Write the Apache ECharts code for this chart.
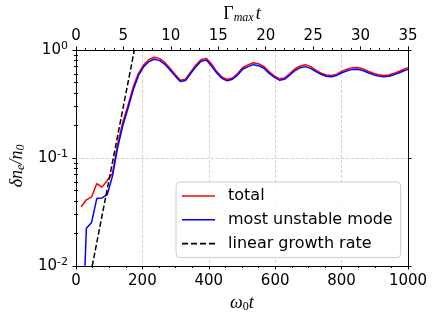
<!DOCTYPE html>
<html>
<head>
<meta charset="utf-8">
<script src="https://cdn.jsdelivr.net/npm/echarts@6/dist/echarts.min.js"></script>
<style>html,body{margin:0;padding:0;background:#fff}#c{width:436px;height:318px}</style>
</head>
<body>
<div id="c"></div>
<script>
// omega_0 t sample times
const t = [15.7,31.4,47.1,62.8,78.5,94.2,110,125.6,141.3,157,172.8,188.5,204.2,219.9,235.6,251.3,267,282.7,298.5,314.2,329.9,345.6,361.3,377,392.7,408.4,424.1,439.8,455.5,471.2,486.9,502.7,518.4,534,549.8,565.5,581.2,596.9,612.6,628.3,644,659.7,675.4,691.2,706.9,722.6,738.3,754,769.7,785.4,801.1,816.8,832.5,848.2,863.9,879.6,895.4,911,926.8,942.5,958.2,973.9,989.6,1000];
const total = [0.0353,0.041,0.0436,0.058,0.0537,0.0618,0.072,0.135,0.215,0.31,0.46,0.61,0.73,0.815,0.855,0.835,0.77,0.68,0.595,0.525,0.535,0.625,0.725,0.815,0.835,0.74,0.63,0.562,0.532,0.55,0.605,0.69,0.727,0.76,0.745,0.705,0.63,0.575,0.54,0.55,0.605,0.67,0.71,0.73,0.70,0.65,0.61,0.585,0.58,0.597,0.635,0.662,0.685,0.688,0.668,0.635,0.608,0.588,0.58,0.585,0.607,0.635,0.667,0.685];
const mostUnstable = [0.0012,0.0223,0.0253,0.0422,0.0427,0.0458,0.068,0.125,0.2,0.29,0.43,0.58,0.70,0.78,0.82,0.80,0.74,0.655,0.575,0.51,0.52,0.605,0.70,0.785,0.805,0.71,0.61,0.545,0.518,0.535,0.585,0.665,0.70,0.73,0.715,0.68,0.61,0.56,0.525,0.535,0.585,0.645,0.685,0.70,0.675,0.63,0.595,0.57,0.565,0.58,0.615,0.64,0.66,0.662,0.645,0.615,0.59,0.572,0.565,0.57,0.59,0.615,0.645,0.66];
// linear growth rate reference line endpoints (omega_0 t, amplitude)
const growthT = [49, 176];
const growthV = [0.01, 1];
const yMajor = [0.01, 0.1, 1];
const yMinor = [0.02,0.03,0.04,0.05,0.06,0.07,0.08,0.09,0.2,0.3,0.4,0.5,0.6,0.7,0.8,0.9];
const seriesNames = ['total', 'most unstable mode', 'linear growth rate'];

const pair = (xs, ys) => xs.map((x, i) => [x, ys[i]]);
const grid = {left: 70, right: 28, top: 46, bottom: 52};
const tickFont = {fontFamily: 'DejaVu Sans', fontSize: 15, color: '#000'};
const mathFont = 'Liberation Serif';
const solidIcon = 'path://M0,0h33v1.6h-33z';
const dashIcon = 'path://M0,0h6v1.6h-6z M9,0h6v1.6h-6z M18,0h6v1.6h-6z M27,0h6v1.6h-6z';

const logAxisBase = (pos) => ({
  type: 'log', logBase: 10, min: 0.01, max: 1, position: pos,
  axisLine: {show: true, onZero: false, lineStyle: {color: '#000', width: 1}},
  splitLine: {show: false}
});

const chart = echarts.init(document.getElementById('c'), null, {renderer: 'canvas'});
chart.setOption({
  animation: false,
  backgroundColor: '#fff',
  grid: grid,
  legend: {
    orient: 'vertical', left: 176, top: 182,
    data: [
      {name: seriesNames[0], icon: solidIcon},
      {name: seriesNames[1], icon: solidIcon},
      {name: seriesNames[2], icon: dashIcon}
    ],
    itemWidth: 33, itemHeight: 1.6, itemGap: 7.8,
    padding: [6, 8, 6, 6],
    backgroundColor: 'rgba(255,255,255,0.85)',
    borderColor: '#cccccc', borderWidth: 1, borderRadius: 4,
    itemStyle: {borderWidth: 0},
    textStyle: {fontFamily: 'DejaVu Sans', fontSize: 16, color: '#000', lineHeight: 16, padding: [0, 0, 0, 8]}
  },
  xAxis: [{
    type: 'value', min: 0, max: 1000, interval: 200, position: 'bottom',
    name: '{i|ω}{sub|0}{i|t}', nameLocation: 'middle', nameGap: 26,
    nameTextStyle: {rich: {
      i: {fontFamily: mathFont, fontStyle: 'italic', fontSize: 18, color: '#000'},
      sub: {fontFamily: mathFont, fontSize: 12, color: '#000', padding: [8, 0, 0, 0]}
    }},
    axisLine: {show: true, onZero: false, lineStyle: {color: '#000', width: 1}},
    axisTick: {show: true, length: 3.5, lineStyle: {color: '#000'}},
    minorTick: {show: true, splitNumber: 4, length: 2, lineStyle: {color: '#000'}},
    axisLabel: Object.assign({margin: 8, formatter: v => String(v)}, tickFont),
    splitLine: {show: true, lineStyle: {color: '#c4c4c4', width: 0.8, type: [3, 2]}}
  }, {
    type: 'value', min: 0, max: 35, interval: 5, position: 'top',
    name: '{g|Γ}{sub|max}{i|t}', nameLocation: 'middle', nameGap: 24,
    nameTextStyle: {rich: {
      g: {fontFamily: mathFont, fontSize: 18, color: '#000'},
      i: {fontFamily: mathFont, fontStyle: 'italic', fontSize: 18, color: '#000'},
      sub: {fontFamily: mathFont, fontStyle: 'italic', fontSize: 12, color: '#000', padding: [8, 2, 0, 0]}
    }},
    axisLine: {show: true, onZero: false, lineStyle: {color: '#000', width: 1}},
    axisTick: {show: true, length: 3.5, lineStyle: {color: '#000'}},
    minorTick: {show: true, splitNumber: 5, length: 2, lineStyle: {color: '#000'}},
    axisLabel: Object.assign({margin: 6, formatter: v => String(v)}, tickFont),
    splitLine: {show: false}
  }],
  yAxis: [
    Object.assign(logAxisBase('left'), {
      name: '{i|δn}{sub|e}{i|/n}{sub|0}', nameLocation: 'middle', nameGap: 44, nameRotate: 90,
      nameTextStyle: {padding: [0, 16, 0, 0], rich: {
        i: {fontFamily: mathFont, fontStyle: 'italic', fontSize: 18, color: '#000'},
        sub: {fontFamily: mathFont, fontStyle: 'italic', fontSize: 12, color: '#000', padding: [8, 0, 0, 0]}
      }},
      axisTick: {show: true, length: 3.5, lineStyle: {color: '#000'}, customValues: yMajor},
      axisLabel: {
        margin: 8, customValues: yMajor,
        formatter: v => '{b|10}{s|' + Math.round(Math.log10(v)) + '}',
        rich: {
          b: {fontFamily: 'DejaVu Sans', fontSize: 15, color: '#000'},
          s: {fontFamily: 'DejaVu Sans', fontSize: 11, color: '#000', padding: [0, 0, 8, 0]}
        }
      },
      splitLine: {show: true, lineStyle: {color: '#c4c4c4', width: 0.8, type: [3, 2]}}
    }),
    Object.assign(logAxisBase('right'), {
      axisTick: {show: true, length: 3.5, lineStyle: {color: '#000'}, customValues: yMajor},
      axisLabel: {show: false}
    }),
    Object.assign(logAxisBase('left'), {
      axisLine: {show: false},
      axisTick: {show: true, length: 2, lineStyle: {color: '#000'}, customValues: yMinor},
      axisLabel: {show: false}
    }),
    Object.assign(logAxisBase('right'), {
      axisLine: {show: false},
      axisTick: {show: true, length: 2, lineStyle: {color: '#000'}, customValues: yMinor},
      axisLabel: {show: false}
    })
  ],
  series: [{
    name: seriesNames[0], type: 'line', xAxisIndex: 0, yAxisIndex: 0,
    data: pair(t, total), showSymbol: false, symbol: 'none', clip: true,
    lineStyle: {color: '#ff0000', width: 1.5}, itemStyle: {color: '#ff0000'}
  }, {
    name: seriesNames[1], type: 'line', xAxisIndex: 0, yAxisIndex: 0,
    data: pair(t, mostUnstable), showSymbol: false, symbol: 'none', clip: true,
    lineStyle: {color: '#0000ff', width: 1.5}, itemStyle: {color: '#0000ff'}
  }, {
    name: seriesNames[2], type: 'line', xAxisIndex: 0, yAxisIndex: 0,
    data: pair(growthT, growthV), showSymbol: false, symbol: 'none', clip: true,
    lineStyle: {color: '#000000', width: 1.5, type: [5.5, 2.5]}, itemStyle: {color: '#000000'}
  }]
});
</script>
</body>
</html>
